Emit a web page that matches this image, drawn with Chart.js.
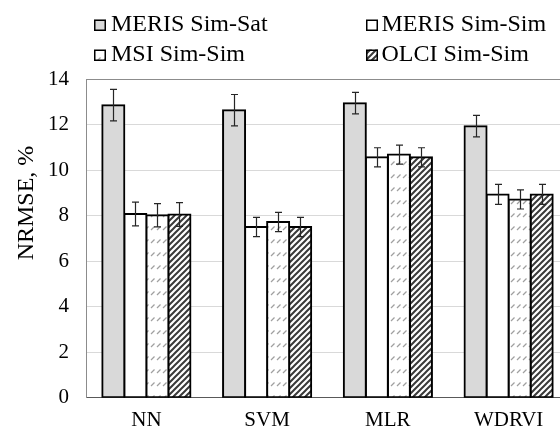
<!DOCTYPE html>
<html>
<head>
<meta charset="utf-8">
<script src="https://cdn.jsdelivr.net/npm/chart.js@4.4.0/dist/chart.umd.min.js"></script>
<style>
  html, body { margin:0; padding:0; background:#fff; overflow:hidden; width:560px; height:432px; }
  canvas { display:block; }
</style>
</head>
<body>
<canvas id="chart" width="580" height="445"></canvas>
<script>
const categories = ['NN', 'SVM', 'MLR', 'WDRVI'];
const seriesNames = ['MERIS Sim-Sat', 'MERIS Sim-Sim', 'MSI Sim-Sim', 'OLCI Sim-Sim'];

const merisSat = [12.85, 12.63, 12.94, 11.93];
const merisSatErr = [0.69, 0.69, 0.47, 0.47];
const merisSim = [8.07, 7.50, 10.56, 8.93];
const merisSimErr = [0.52, 0.42, 0.42, 0.44];
const msiSim = [8.02, 7.72, 10.68, 8.71];
const msiSimErr = [0.51, 0.42, 0.42, 0.42];
const olciSim = [8.05, 7.50, 10.56, 8.93];
const olciSimErr = [0.52, 0.42, 0.42, 0.44];

const yTicks = [0, 2, 4, 6, 8, 10, 12, 14];

const FONT = "'Liberation Serif', 'Times New Roman', serif";

// hatch fills
function makePattern(w, h, draw){
  const c = document.createElement('canvas');
  c.width = w; c.height = h;
  const g = c.getContext('2d');
  g.fillStyle = '#fff';
  g.fillRect(0, 0, w, h);
  draw(g);
  return g.createPattern(c, 'repeat');
}

const ctx = document.getElementById('chart').getContext('2d');

const dashPattern = makePattern(6, 13, g => {
  g.strokeStyle = '#a0a0a0';
  g.lineWidth = 1.3;
  g.beginPath();
  g.moveTo(1, 9); g.lineTo(4.5, 5.5);
  g.stroke();
});

const stripePattern = makePattern(6, 6, g => {
  g.strokeStyle = '#3a3a3a';
  g.lineWidth = 2;
  g.beginPath();
  g.moveTo(-1, 7); g.lineTo(7, -1);
  g.moveTo(-1, 1); g.lineTo(1, -1);
  g.moveTo(5, 7); g.lineTo(7, 5);
  g.stroke();
});

const fills = ['#d9d9d9', '#ffffff', dashPattern, stripePattern];
const values = [merisSat, merisSim, msiSim, olciSim];
const errors = [merisSatErr, merisSimErr, msiSimErr, olciSimErr];

const errorBars = {
  id: 'errorBars',
  afterDatasetsDraw(chart){
    const c = chart.ctx;
    const ys = chart.scales.y;
    c.save();
    c.strokeStyle = '#262626';
    c.lineWidth = 1.2;
    chart.data.datasets.forEach((ds, i) => {
      const meta = chart.getDatasetMeta(i);
      meta.data.forEach((bar, j) => {
        const v = ds.data[j], e = ds.errors[j];
        const x = Math.round(bar.x) + 0.5;
        const y1 = ys.getPixelForValue(v + e);
        const y2 = ys.getPixelForValue(v - e);
        c.beginPath();
        c.moveTo(x, y1); c.lineTo(x, y2);
        c.moveTo(x - 3.5, y1); c.lineTo(x + 3.5, y1);
        c.moveTo(x - 3.5, y2); c.lineTo(x + 3.5, y2);
        c.stroke();
      });
    });
    c.restore();
  }
};

const extras = {
  id: 'extras',
  afterDraw(chart){
    const c = chart.ctx;
    c.save();
    // y axis title, sits a bit above the axis middle
    c.fillStyle = '#000';
    c.font = '24px ' + FONT;
    c.textAlign = 'center';
    c.textBaseline = 'alphabetic';
    c.translate(33, 203);
    c.rotate(-Math.PI / 2);
    c.fillText('NRMSE, %', 0, 0);
    c.restore();

    // legend, two columns
    c.save();
    const boxX = [94, 366];
    const textX = [111, 381.5];
    const rows = [31, 61];
    c.font = '24px ' + FONT;
    c.textBaseline = 'alphabetic';
    c.textAlign = 'left';
    chart.data.datasets.forEach((ds, i) => {
      const col = i % 2, base = rows[Math.floor(i / 2)];
      const bx = boxX[col], by = base - 11.5;
      c.fillStyle = ds.backgroundColor;
      c.fillRect(bx, by, 12, 11.5);
      c.strokeStyle = '#000';
      c.lineWidth = 1.5;
      c.strokeRect(bx + 0.75, by + 0.75, 10.5, 10);
      c.fillStyle = '#000';
      c.fillText(ds.label, textX[col], base);
    });
    c.restore();
  }
};

new Chart(ctx, {
  type: 'bar',
  data: {
    labels: categories,
    datasets: seriesNames.map((name, i) => ({
      label: name,
      data: values[i],
      errors: errors[i],
      backgroundColor: fills[i],
      borderColor: '#000',
      borderWidth: 2,
      borderSkipped: false,
      inflateAmount: 1,
      barPercentage: 1,
      categoryPercentage: 0.73
    }))
  },
  options: {
    responsive: false,
    animation: false,
    layout: { padding: { left: 31, right: 11, top: 79, bottom: 2 } },
    plugins: { legend: { display: false }, tooltip: { enabled: false } },
    scales: {
      x: {
        grid: { display: false, drawTicks: false },
        border: { color: '#595959', width: 1 },
        ticks: { color: '#000', font: { family: FONT, size: 21 }, padding: 10 }
      },
      y: {
        min: 0, max: 14,
        afterBuildTicks: axis => { axis.ticks = yTicks.map(v => ({ value: v })); },
        grid: {
          drawTicks: false,
          color: c => c.tick && c.tick.value === 14 ? '#8c8c8c' : '#d9d9d9',
          lineWidth: 1
        },
        border: { color: '#8c8c8c', width: 1 },
        ticks: { color: '#000', font: { family: FONT, size: 21 }, padding: 17 }
      }
    }
  },
  plugins: [errorBars, extras]
});
</script>
</body>
</html>
